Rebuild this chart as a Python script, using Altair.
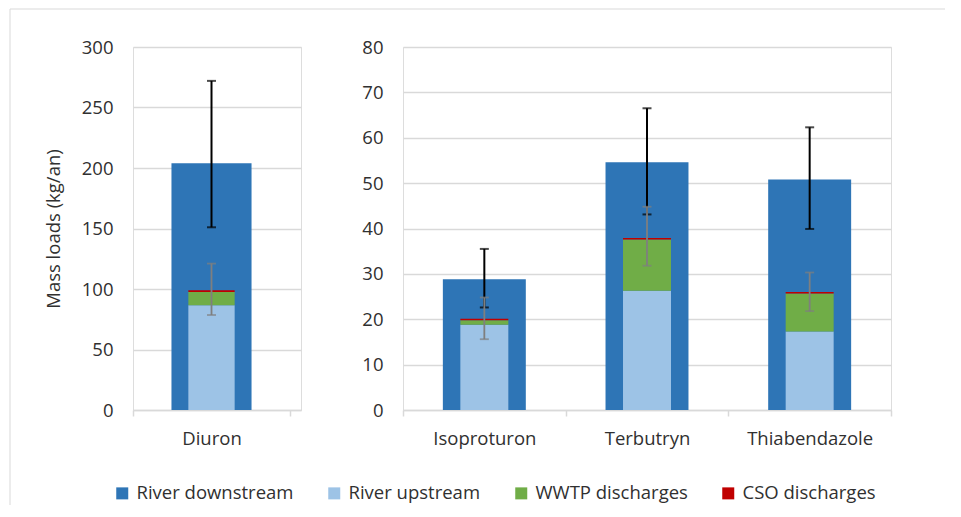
import altair as alt
import pandas as pd

compounds = ["Diuron", "Isoproturon", "Terbutryn", "Thiabendazole"]
panels = ["left", "right", "right", "right"]
downstream = [204.0, 28.8, 54.6, 50.8]
downstream_low = [151.0, 22.6, 43.1, 39.9]
downstream_high = [272.0, 35.5, 66.5, 62.3]
upstream = [86.5, 18.8, 26.3, 17.3]
wwtp = [11.0, 1.0, 11.3, 8.4]
cso = [1.5, 0.3, 0.3, 0.3]
sum_low = [78.5, 15.6, 31.8, 21.8]
sum_high = [121.0, 24.8, 44.8, 30.3]

series = ["River downstream", "River upstream", "WWTP discharges", "CSO discharges"]
colors = ["#2E75B6", "#9DC3E6", "#70AD47", "#C00000"]

left_ticks = [0, 50, 100, 150, 200, 250, 300]
right_ticks = [0, 10, 20, 30, 40, 50, 60, 70, 80]

FONT = "Open Sans"
FS = 18.5
TXT = "#303030"
GRID = "#D9D9D9"

down_df = pd.DataFrame({
    "compound": compounds, "panel": panels, "series": series[0],
    "value": downstream, "low": downstream_low, "high": downstream_high,
})
rows = []
for i, c in enumerate(compounds):
    for k, (s, v) in enumerate(zip(series[1:], [upstream[i], wwtp[i], cso[i]])):
        rows.append({"compound": c, "panel": panels[i], "series": s, "value": v, "rank": k})
stack_df = pd.DataFrame(rows)
sum_df = pd.DataFrame({"compound": compounds, "panel": panels, "low": sum_low, "high": sum_high})

legend = alt.Legend(
    orient="none", legendX=-20, legendY=437, direction="horizontal", columns=4,
    title=None, symbolType="square", symbolSize=144, symbolStrokeWidth=0,
    labelFont=FONT, labelFontSize=FS, labelColor=TXT, labelOffset=5,
    columnPadding=31, padding=0,
)
color = alt.Color("series:N", scale=alt.Scale(domain=series, range=colors), legend=legend)


def panel(name, width, ymax, yticks, title, x_scale):
    cats = [c for c, p in zip(compounds, panels) if p == name]
    xs = alt.Scale(domain=cats, **x_scale)
    xaxis = alt.Axis(title=None, tickBand="extent", labelAngle=0, labelFont=FONT,
                     labelFontSize=FS, labelColor=TXT, labelPadding=13, tickSize=6,
                     tickColor=GRID, tickWidth=1.5, domainColor=GRID, domainWidth=1.5,
                     grid=False)
    yaxis = alt.Axis(values=yticks, domain=False, ticks=False, tickSize=0, grid=True,
                     gridColor=GRID, gridWidth=1.3, labelFont=FONT, labelFontSize=FS,
                     labelColor=TXT, labelPadding=20,
                     titleFont=FONT, titleFontSize=FS, titleFontWeight="normal",
                     titleColor=TXT, titlePadding=18)
    ys = alt.Scale(domain=[0, ymax], nice=False)
    X = alt.X("compound:N", scale=xs, axis=xaxis, sort=cats)

    def Y(field, **kw):
        return alt.Y(field, scale=ys, axis=yaxis, title=title, **kw)

    d = down_df[down_df.panel == name]
    s = stack_df[stack_df.panel == name]
    t = sum_df[sum_df.panel == name]

    wide = alt.Chart(d).mark_bar(width=alt.RelativeBandSize(0.51)).encode(
        x=X, y=Y("value:Q"), color=color)
    narrow = alt.Chart(s).mark_bar(width=alt.RelativeBandSize(0.295)).encode(
        x=X, y=Y("value:Q", stack="zero"), color=color, order=alt.Order("rank:Q"))
    err_d = alt.Chart(d).mark_rule(color="black", strokeWidth=2).encode(
        x=X, y=Y("low:Q"), y2="high:Q")
    cap_d = alt.Chart(d).transform_fold(["low", "high"], as_=["end", "v"]).mark_tick(
        color="black", thickness=2, size=9).encode(x=X, y=Y("v:Q"))
    err_s = alt.Chart(t).mark_rule(color="#7F7F7F", strokeWidth=1.8).encode(
        x=X, y=Y("low:Q"), y2="high:Q")
    cap_s = alt.Chart(t).transform_fold(["low", "high"], as_=["end", "v"]).mark_tick(
        color="#7F7F7F", thickness=1.8, size=9).encode(x=X, y=Y("v:Q"))
    layers = [wide, narrow, err_d, cap_d, err_s, cap_s]
    return layers


left_layers = panel("left", 168, 300, left_ticks, "Mass loads (kg/an)",
                    dict(paddingInner=0, paddingOuter=0.035, align=0))
border_data = alt.Data(values=[{"a": 1}])
border_left = alt.Chart(border_data).mark_rule(color=GRID, strokeWidth=1).encode(
    x=alt.value(-123), y=alt.value(-38), y2=alt.value(458))
border_top = alt.Chart(border_data).mark_rule(color=GRID, strokeWidth=1).encode(
    x=alt.value(-123), x2=alt.value(812), y=alt.value(-38))
left = alt.layer(border_left, border_top, *left_layers).properties(width=168, height=363)

right_layers = panel("right", 488, 80, right_ticks, None,
                     dict(paddingInner=0, paddingOuter=0))
right = alt.layer(*right_layers).properties(width=488, height=363)

chart = alt.hconcat(left, right, spacing=102, bounds="flush").properties(
    padding={"left": 1, "top": 0, "right": 0, "bottom": 0}
).configure_view(stroke=None).configure(background="white")

chart.save("out.html", embed_options={"renderer": "svg", "actions": False})
